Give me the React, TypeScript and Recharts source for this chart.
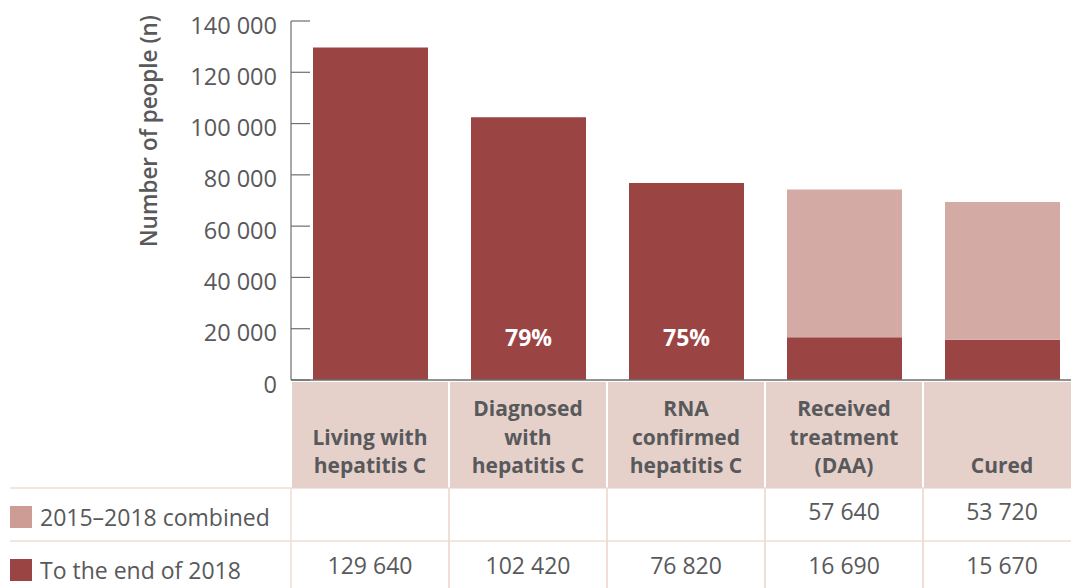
import { BarChart, Bar, XAxis, YAxis, LabelList } from "recharts";

const categories = [
  ["Living with", "hepatitis C"],
  ["Diagnosed", "with", "hepatitis C"],
  ["RNA", "confirmed", "hepatitis C"],
  ["Received", "treatment", "(DAA)"],
  ["Cured"],
];
const toEnd2018 = [129640, 102420, 76820, 16690, 15670];
const combined2015to2018 = [null, null, null, 57640, 53720];
const shareLabels = ["", "79%", "75%", "", ""];
const yTicks = [0, 20000, 40000, 60000, 80000, 100000, 120000, 140000];

const DARK = "#9a4444";
const LIGHT = "#d3aba4";
const HEADER = "#e6d0ca";
const GRIDLINE = "#efdcd6";
const TEXT = "#58595b";
const FONT = "'Open Sans', sans-serif";

const data = categories.map((lines, i) => ({
  name: lines.join(" "),
  toEnd: toEnd2018[i],
  combined: combined2015to2018[i],
  share: shareLabels[i],
}));

const fmt = (n: number | null) =>
  n == null ? "" : String(n).replace(/\B(?=(\d{3})+(?!\d))/g, " ");

const CHART_W = 1081;
const AXIS_W = 291;
const BAND = (CHART_W - AXIS_W) / categories.length;

function YTick({ x, y, payload }: any) {
  return (
    <g>
      <line x1={x + 14} x2={x + 33} y1={y} y2={y} stroke="#6d6e71" strokeWidth={1.2} />
      <text x={x} y={y + 12.5} textAnchor="end" fill={TEXT} fontSize={23.5} fontFamily={FONT}>
        {fmt(payload.value)}
      </text>
    </g>
  );
}

function TableTick({ x, payload, index }: any) {
  const i = index ?? payload.index;
  const lines = categories[i];
  const left = x - BAND / 2;
  const lastBase = 473;
  return (
    <g fontFamily={FONT}>
      {i === 0 && (
        <g>
          <line x1={10} x2={CHART_W} y1={488} y2={488} stroke={GRIDLINE} strokeWidth={1.5} />
          <line x1={10} x2={CHART_W} y1={541} y2={541} stroke={GRIDLINE} strokeWidth={1.5} />
          <rect x={10} y={506} width={22} height={22} fill="#cc9c95" />
          <text x={40} y={525.5} fill={TEXT} fontSize={23}>2015–2018 combined</text>
          <rect x={10} y={559} width={22} height={22} fill={DARK} />
          <text x={40} y={578.5} fill={TEXT} fontSize={23}>To the end of 2018</text>
        </g>
      )}
      <rect x={left + 1} y={382} width={BAND - 2} height={106} fill={HEADER} />
      <line x1={left} x2={left} y1={488} y2={588} stroke={GRIDLINE} strokeWidth={1.5} />
      <line x1={left + BAND} x2={left + BAND} y1={488} y2={588} stroke={GRIDLINE} strokeWidth={1.5} />
      {lines.map((ln, k) => (
        <text
          key={k}
          x={x}
          y={lastBase - (lines.length - 1 - k) * 28.5}
          textAnchor="middle"
          fill={TEXT}
          fontSize={21}
          fontWeight={700}
        >
          {ln}
        </text>
      ))}
      <text x={x} y={520} textAnchor="middle" fill={TEXT} fontSize={23}>
        {fmt(combined2015to2018[i])}
      </text>
      <text x={x} y={574} textAnchor="middle" fill={TEXT} fontSize={23}>
        {fmt(toEnd2018[i])}
      </text>
    </g>
  );
}

function YLabel() {
  return (
    <text
      x={148}
      y={131}
      transform="rotate(-90 148 131)"
      textAnchor="middle"
      dominantBaseline="central"
      fill={TEXT}
      fontSize={22.5}
      fontWeight={600}
      fontFamily={FONT}
    >
      Number of people (n)
    </text>
  );
}

export default function App() {
  return (
    <div style={{ position: "absolute", left: 0, top: 0, width: 1071, height: 588, overflow: "hidden", background: "#fff" }}>
      <BarChart
        width={CHART_W}
        height={588}
        data={data}
        margin={{ top: 21, right: 0, bottom: 0, left: 0 }}
        barSize={115}
      >
        <XAxis
          dataKey="name"
          height={208}
          interval={0}
          tickLine={false}
          tickSize={0}
          tickMargin={0}
          axisLine={{ stroke: "#6d6e71", strokeWidth: 1.5 }}
          tick={<TableTick />}
        />
        <YAxis
          width={AXIS_W}
          domain={[0, 140000]}
          ticks={yTicks}
          interval={0}
          tickLine={false}
          tickSize={0}
          tickMargin={14}
          axisLine={{ stroke: "#6d6e71", strokeWidth: 1.2 }}
          tick={<YTick />}
          label={{ content: <YLabel /> }}
        />
        <Bar dataKey="toEnd" stackId="a" fill={DARK} isAnimationActive={false}>
          <LabelList
            dataKey="share"
            position="insideBottom"
            offset={34}
            fill="#fff"
            fontSize={23}
            fontWeight={700}
            fontFamily={FONT}
          />
        </Bar>
        <Bar dataKey="combined" stackId="a" fill={LIGHT} isAnimationActive={false} />
      </BarChart>
    </div>
  );
}
